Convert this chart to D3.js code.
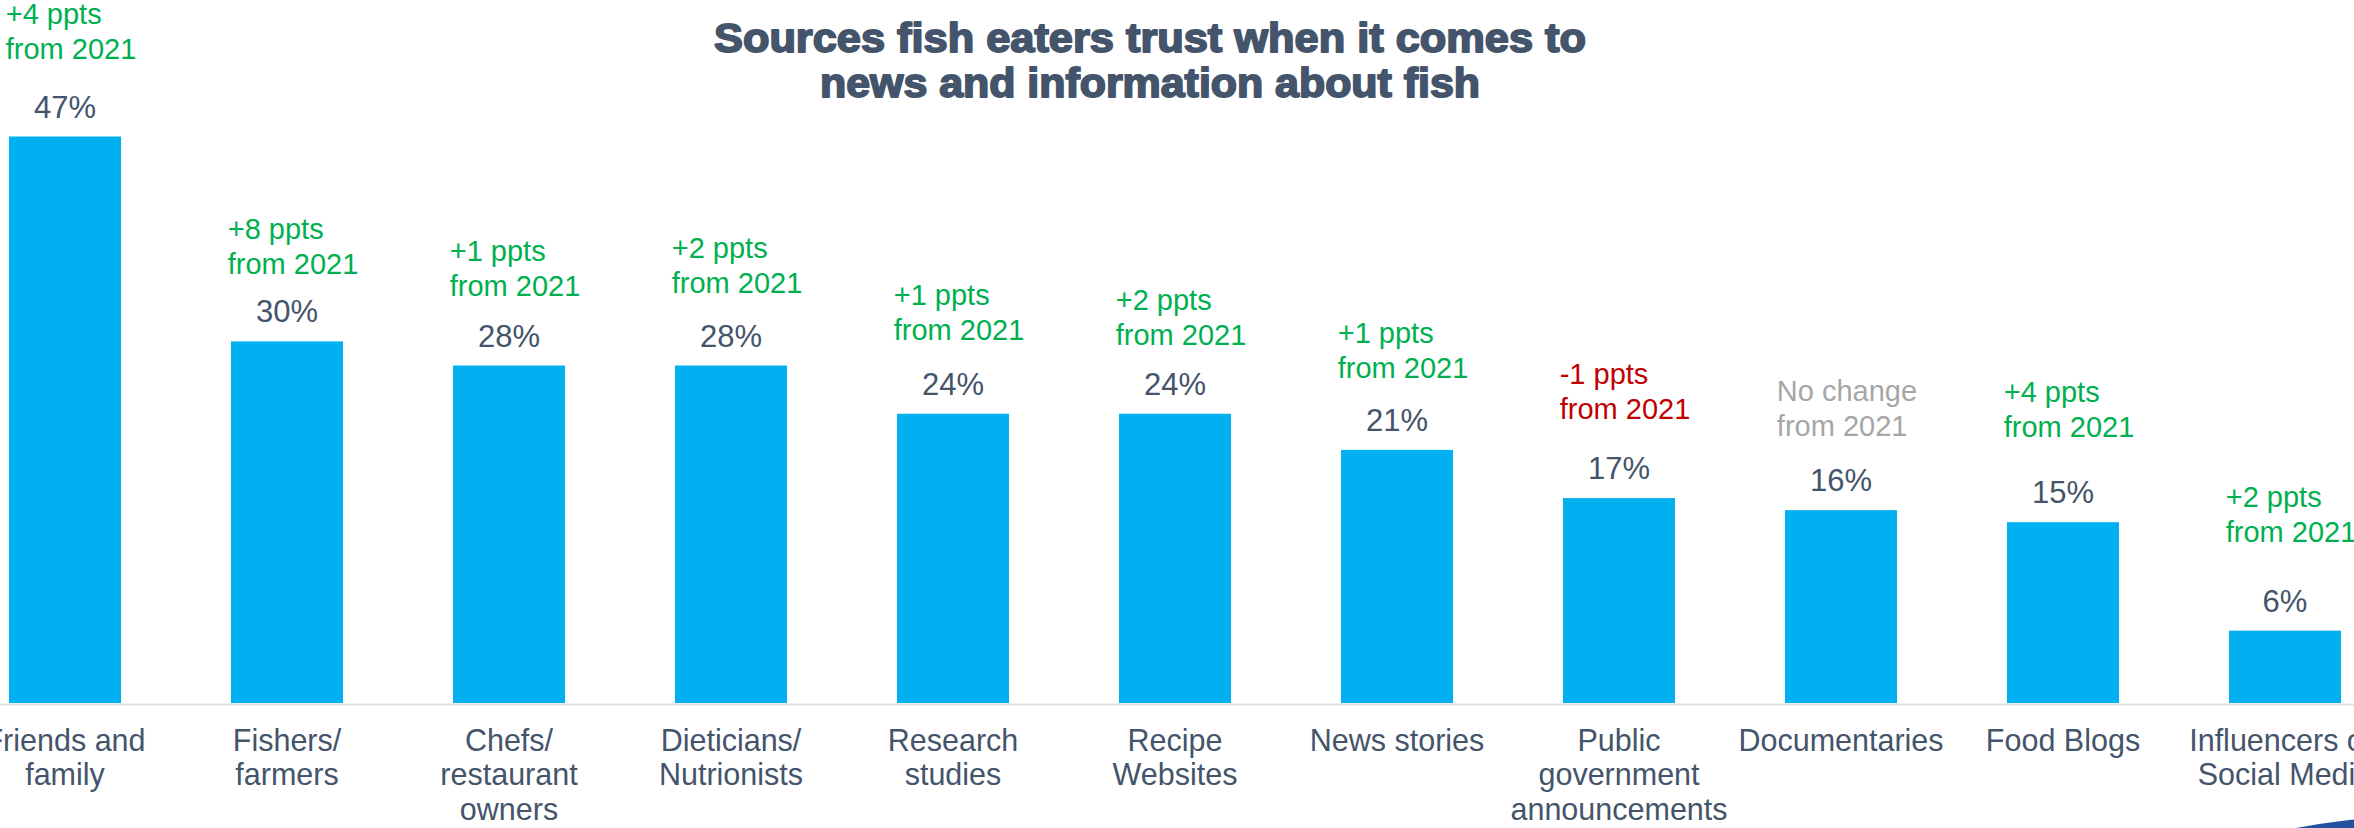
<!DOCTYPE html>
<html>
<head>
<meta charset="utf-8">
<script src="https://cdn.jsdelivr.net/npm/d3@7/dist/d3.min.js"></script>
<style>
  html, body { margin: 0; padding: 0; background: #ffffff; overflow: hidden; }
  svg { display: block; font-family: "Liberation Sans", Arial, sans-serif; }
</style>
</head>
<body>
<svg id="chart" width="2354" height="828"></svg>
<script>
// Trusted sources, share of fish eaters (%)
const categories = [
  "Friends and\nfamily",
  "Fishers/\nfarmers",
  "Chefs/\nrestaurant\nowners",
  "Dieticians/\nNutrionists",
  "Research\nstudies",
  "Recipe\nWebsites",
  "News stories",
  "Public\ngovernment\nannouncements",
  "Documentaries",
  "Food Blogs",
  "Influencers on\nSocial Media"
];
const values = [47, 30, 28, 28, 24, 24, 21, 17, 16, 15, 6];
// Change in percentage points versus 2021
const changes = [4, 8, 1, 2, 1, 2, 1, -1, 0, 4, 2];
const compareYear = "2021";
const titleLines = [
  "Sources fish eaters trust when it comes to",
  "news and information about fish"
];

// Vertical gap between each change note and its value label (hand-placed callouts)
const noteGap = [59, 48, 51, 54, 55, 50, 53, 60, 55, 66, 70];

const W = 2354, H = 828;
const baseY = 703;
const svg = d3.select("#chart");

const x = d3.scaleBand()
  .domain(categories)
  .range([-46, 2396])
  .paddingInner(110 / 222)
  .paddingOuter(55 / 222);

const y = d3.scaleLinear()
  .domain([0, 47])
  .range([baseY, 136.5]);

const textColor = "#44546a";

// Title
svg.append("g")
  .selectAll("text")
  .data(titleLines)
  .join("text")
  .attr("x", 1150)
  .attr("y", (d, i) => 52 + i * 45)
  .attr("text-anchor", "middle")
  .attr("font-size", 40)
  .attr("font-weight", "bold")
  .attr("fill", textColor)
  .attr("stroke", textColor)
  .attr("stroke-width", 1.8)
  .attr("stroke-linejoin", "round")
  .attr("textLength", (d, i) => i === 0 ? 872 : 660)
  .attr("lengthAdjust", "spacingAndGlyphs")
  .text(d => d);

// Bars
svg.append("g")
  .selectAll("rect")
  .data(values)
  .join("rect")
  .attr("x", (d, i) => x(categories[i]))
  .attr("y", d => y(d))
  .attr("width", x.bandwidth())
  .attr("height", d => baseY - y(d))
  .attr("fill", "#00b0f0");

// Category axis
const axis = svg.append("g")
  .attr("transform", `translate(0,${baseY + 1})`)
  .call(d3.axisBottom(x).tickSize(0).tickPadding(0));
axis.select(".domain").attr("stroke", "#dde3ea").attr("stroke-width", 2);
axis.selectAll(".tick text").each(function(d) {
  const t = d3.select(this);
  const lines = d.split("\n");
  t.text(null)
    .attr("y", 0)
    .attr("dy", null)
    .attr("fill", textColor)
    .attr("font-size", 30.5)
    .attr("font-family", "'Liberation Sans', Arial, sans-serif");
  lines.forEach((line, k) => {
    t.append("tspan")
      .attr("x", 0)
      .attr("y", 46.5 + k * 34.5)
      .text(line);
  });
});

// Value labels
svg.append("g")
  .selectAll("text")
  .data(values)
  .join("text")
  .attr("x", (d, i) => x(categories[i]) + x.bandwidth() / 2)
  .attr("y", d => y(d) - 19)
  .attr("text-anchor", "middle")
  .attr("font-size", 31)
  .attr("fill", textColor)
  .text(d => d + "%");

// Change-from-last-year notes
const noteColor = c => c > 0 ? "#00b050" : c < 0 ? "#c00000" : "#a6a6a6";
const noteFirst = c => c === 0 ? "No change" : (c > 0 ? "+" : "-") + Math.abs(c) + " ppts";
const secondLine = (c) => "from " + compareYear;

const notes = svg.append("g")
  .selectAll("text")
  .data(changes)
  .join("text")
  .attr("font-size", 29)
  .attr("fill", d => noteColor(d));

notes.each(function(c, i) {
  const t = d3.select(this);
  const valueBase = y(values[i]) - 19;
  const line2 = valueBase - noteGap[i];
  const line1 = line2 - 35;
  t.append("tspan").attr("y", line1).text(noteFirst(c));
  t.append("tspan").attr("y", line2).text(secondLine(c));
  let w = 0;
  t.selectAll("tspan").each(function() { w = Math.max(w, this.getComputedTextLength()); });
  const cx = x(categories[i]) + x.bandwidth() / 2;
  t.selectAll("tspan").attr("x", cx - w / 2 + 6);
});

// Corner decoration
svg.append("ellipse")
  .attr("cx", 2460)
  .attr("cy", 900)
  .attr("rx", 300)
  .attr("ry", 86)
  .attr("fill", "#24519f");
</script>
</body>
</html>
